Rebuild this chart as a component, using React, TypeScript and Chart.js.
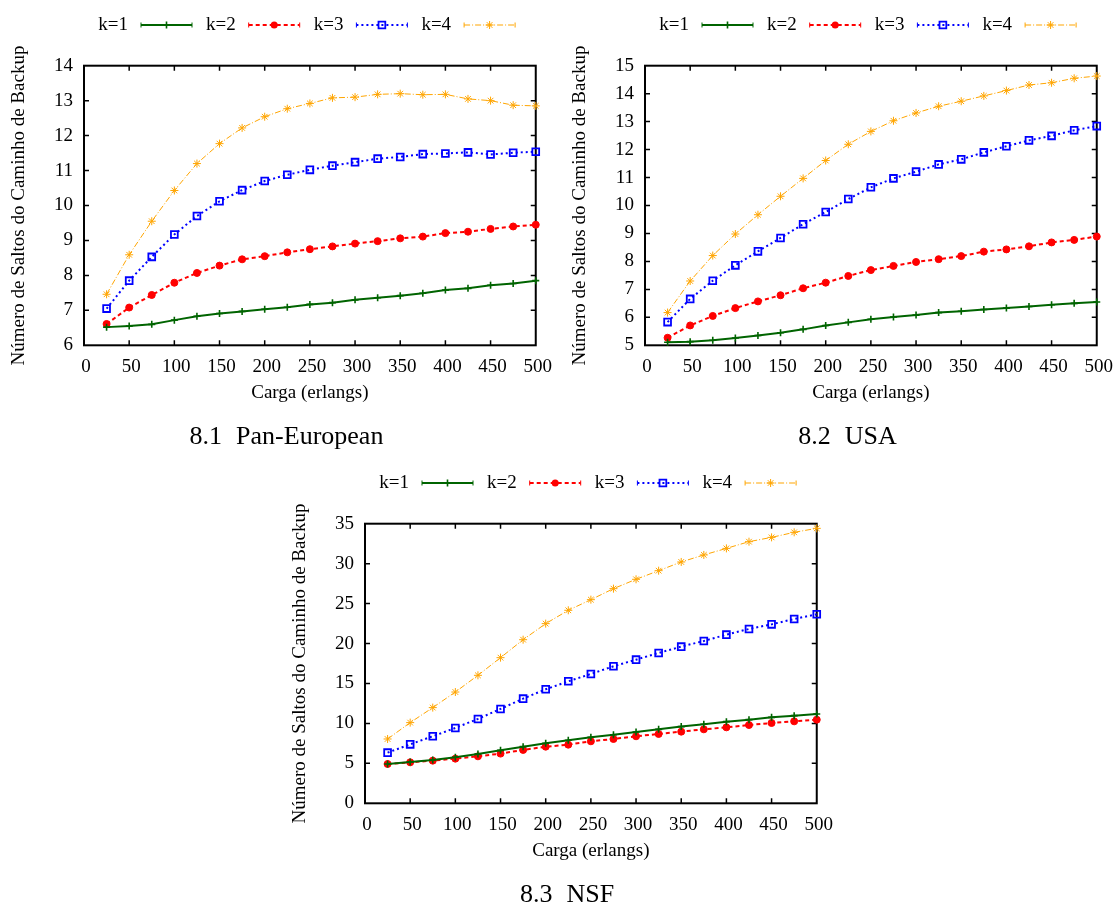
import React, { useEffect, useRef } from "react";
import { Chart, registerables } from "chart.js";

Chart.register(...registerables);

// ---------- data ----------
const loads = [25, 50, 75, 100, 125, 150, 175, 200, 225, 250, 275, 300, 325, 350, 375, 400, 425, 450, 475, 500];
const seriesLabels = ["k=1", "k=2", "k=3", "k=4"];
const xTickStep = 50;
const xMin = 0;
const xMax = 500;

const panEuK1 = [6.52, 6.55, 6.6, 6.72, 6.83, 6.91, 6.97, 7.03, 7.09, 7.17, 7.22, 7.3, 7.36, 7.42, 7.49, 7.58, 7.63, 7.72, 7.77, 7.85];
const panEuK2 = [6.61, 7.08, 7.44, 7.79, 8.07, 8.28, 8.46, 8.55, 8.66, 8.75, 8.83, 8.91, 8.98, 9.06, 9.11, 9.21, 9.25, 9.33, 9.4, 9.45];
const panEuK3 = [7.05, 7.85, 8.53, 9.17, 9.7, 10.12, 10.44, 10.7, 10.88, 11.02, 11.14, 11.24, 11.34, 11.39, 11.47, 11.49, 11.52, 11.46, 11.51, 11.54];
const panEuK4 = [7.46, 8.59, 9.55, 10.43, 11.2, 11.77, 12.22, 12.54, 12.77, 12.92, 13.08, 13.1, 13.18, 13.2, 13.17, 13.18, 13.05, 13.0, 12.87, 12.85];

const usaK1 = [5.11, 5.13, 5.18, 5.26, 5.35, 5.45, 5.57, 5.71, 5.82, 5.93, 6.01, 6.08, 6.17, 6.22, 6.28, 6.33, 6.39, 6.45, 6.5, 6.55];
const usaK2 = [5.27, 5.71, 6.05, 6.33, 6.57, 6.79, 7.04, 7.24, 7.48, 7.69, 7.84, 7.98, 8.08, 8.19, 8.35, 8.43, 8.54, 8.68, 8.77, 8.89];
const usaK3 = [5.83, 6.66, 7.31, 7.86, 8.36, 8.84, 9.33, 9.77, 10.23, 10.65, 10.97, 11.21, 11.47, 11.65, 11.9, 12.12, 12.33, 12.49, 12.69, 12.84];
const usaK4 = [6.17, 7.3, 8.21, 8.98, 9.67, 10.33, 10.97, 11.61, 12.19, 12.65, 13.03, 13.31, 13.55, 13.73, 13.92, 14.11, 14.31, 14.39, 14.55, 14.63];

const nsfK1 = [4.92, 5.17, 5.42, 5.76, 6.17, 6.63, 7.09, 7.51, 7.89, 8.26, 8.59, 8.93, 9.26, 9.6, 9.89, 10.22, 10.47, 10.76, 10.97, 11.18];
const nsfK2 = [4.92, 5.13, 5.34, 5.59, 5.88, 6.22, 6.68, 7.09, 7.34, 7.76, 8.05, 8.39, 8.68, 8.97, 9.26, 9.51, 9.8, 10.05, 10.26, 10.47];
const nsfK3 = [6.34, 7.38, 8.39, 9.43, 10.56, 11.81, 13.1, 14.27, 15.27, 16.19, 17.15, 17.98, 18.82, 19.61, 20.32, 21.11, 21.82, 22.4, 23.07, 23.66];
const nsfK4 = [8.05, 10.1, 11.98, 13.93, 16.02, 18.23, 20.48, 22.49, 24.16, 25.49, 26.87, 28.04, 29.12, 30.21, 31.09, 31.91, 32.75, 33.29, 33.92, 34.42];

const xTitle = "Carga (erlangs)";
const yTitle = "Número de Saltos do Caminho de Backup";

// ---------- styles ----------
const FONT = "'Liberation Serif', 'Times New Roman', serif";
const SERIES_STYLE = [
  { color: "#006400", dash: [] as number[], width: 2, point: "cross", radius: 3.5, pbw: 1.6, fill: "#006400" },
  { color: "#ff0000", dash: [4, 3], width: 2, point: "circle", radius: 3.5, pbw: 1, fill: "#ff0000" },
  { color: "#0000ff", dash: [2, 3], width: 2, point: "rect", radius: 4.8, pbw: 1.8, fill: "rgba(255,255,255,0)" },
  { color: "#ffa500", dash: [6, 2, 1, 2], width: 1, point: "star", radius: 4, pbw: 1, fill: "#ffa500" },
];

const CW = 560;
const CH = 460;
const PL = 84; // plot left inside canvas
const PT = 65.7;
const PW = 452.5;
const PH = 279.6;
const XH = 59; // x axis box height

function drawMarker(ctx: CanvasRenderingContext2D, style: string, x: number, y: number, r: number) {
  ctx.beginPath();
  if (style === "circle") {
    ctx.arc(x, y, r, 0, Math.PI * 2);
    ctx.fill();
    return;
  }
  if (style === "rect") {
    const s = r * Math.SQRT1_2;
    ctx.rect(x - s, y - s, 2 * s, 2 * s);
    ctx.stroke();
    return;
  }
  if (style === "cross") {
    ctx.moveTo(x - r, y);
    ctx.lineTo(x + r, y);
    ctx.moveTo(x, y - r);
    ctx.lineTo(x, y + r);
    ctx.stroke();
    return;
  }
  // star
  const d = r * Math.SQRT1_2;
  ctx.moveTo(x - r, y);
  ctx.lineTo(x + r, y);
  ctx.moveTo(x, y - r);
  ctx.lineTo(x, y + r);
  ctx.moveTo(x - d, y - d);
  ctx.lineTo(x + d, y + d);
  ctx.moveTo(x - d, y + d);
  ctx.lineTo(x + d, y - d);
  ctx.stroke();
}

const framePlugin = {
  id: "gnuframe",
  beforeDatasetsDraw(chart: any) {
    const { ctx, chartArea } = chart;
    const { left, right, top, bottom } = chartArea;
    ctx.save();
    ctx.strokeStyle = "#000";
    ctx.setLineDash([]);
    ctx.lineWidth = 1.5;
    const xs = chart.scales.x;
    const ys = chart.scales.y;
    xs.ticks.forEach((t: any) => {
      const px = xs.getPixelForValue(t.value);
      if (Math.abs(px - left) < 1 || Math.abs(px - right) < 1) return;
      ctx.beginPath();
      ctx.moveTo(px, bottom);
      ctx.lineTo(px, bottom - 5);
      ctx.moveTo(px, top);
      ctx.lineTo(px, top + 5);
      ctx.stroke();
    });
    ys.ticks.forEach((t: any) => {
      const py = ys.getPixelForValue(t.value);
      if (Math.abs(py - top) < 1 || Math.abs(py - bottom) < 1) return;
      ctx.beginPath();
      ctx.moveTo(left, py);
      ctx.lineTo(left + 5, py);
      ctx.moveTo(right, py);
      ctx.lineTo(right - 5, py);
      ctx.stroke();
    });
    ctx.lineWidth = 2;
    ctx.strokeRect(left, top, right - left, bottom - top);
    ctx.restore();
  },
  afterDraw(chart: any) {
    const { ctx, chartArea } = chart;
    const y = 25;
    ctx.save();
    chart.data.datasets.forEach((ds: any, i: number) => {
      const st = SERIES_STYLE[i];
      const textRight = chartArea.left + 44 + i * 107.7;
      ctx.font = `19px ${FONT}`;
      ctx.fillStyle = "#000";
      ctx.textAlign = "right";
      ctx.textBaseline = "middle";
      ctx.fillText(ds.label, textRight, y);
      const x0 = textRight + 13;
      const x1 = x0 + 51;
      ctx.strokeStyle = st.color;
      ctx.lineWidth = st.width;
      ctx.setLineDash(st.dash);
      ctx.beginPath();
      ctx.moveTo(x0, y);
      ctx.lineTo(x1, y);
      ctx.stroke();
      ctx.setLineDash([]);
      ctx.lineWidth = 1;
      ctx.beginPath();
      ctx.moveTo(x0, y - 2.5);
      ctx.lineTo(x0, y + 2.5);
      ctx.moveTo(x1, y - 2.5);
      ctx.lineTo(x1, y + 2.5);
      ctx.stroke();
      ctx.fillStyle = st.color;
      ctx.lineWidth = st.pbw;
      drawMarker(ctx, st.point, (x0 + x1) / 2, y, st.radius);
    });
    ctx.restore();
  },
};

type PanelProps = {
  left: number;
  top: number;
  series: number[][];
  yMin: number;
  yMax: number;
  yStep: number;
  caption: string;
  captionNum: string;
};

function Panel({ left, top, series, yMin, yMax, yStep, caption, captionNum }: PanelProps) {
  const ref = useRef<HTMLCanvasElement | null>(null);
  useEffect(() => {
    if (!ref.current) return;
    const font = { family: FONT, size: 19 };
    const chart = new Chart(ref.current, {
      type: "line",
      data: {
        datasets: series.map((vals, i) => {
          const st = SERIES_STYLE[i];
          return {
            label: seriesLabels[i],
            data: loads.map((x, j) => ({ x, y: vals[j] })),
            borderColor: st.color,
            backgroundColor: st.fill,
            borderWidth: st.width,
            borderDash: st.dash,
            pointStyle: st.point as any,
            pointRadius: st.radius,
            pointBorderWidth: st.pbw,
            pointBorderColor: st.color,
            pointBackgroundColor: st.fill,
            tension: 0,
            fill: false,
            clip: false as any,
          };
        }),
      },
      options: {
        animation: false,
        responsive: false,
        maintainAspectRatio: false,
        layout: { padding: { top: PT, left: 0, right: CW - PL - PW, bottom: CH - PT - PH - XH } },
        plugins: {
          legend: { display: false },
          tooltip: { enabled: false },
          title: { display: false },
        },
        scales: {
          x: {
            type: "linear",
            min: xMin,
            max: xMax,
            afterFit: (s: any) => {
              s.height = XH;
            },
            grid: { display: false, drawTicks: false },
            border: { display: false },
            ticks: { stepSize: xTickStep, font, color: "#000", padding: 10, maxRotation: 0, autoSkip: false, labelOffset: 2 },
            title: { display: true, text: xTitle, font, color: "#000", padding: { top: 0, bottom: 0 } },
          },
          y: {
            type: "linear",
            min: yMin,
            max: yMax,
            afterFit: (s: any) => {
              s.width = PL;
            },
            grid: { display: false, drawTicks: false },
            border: { display: false },
            ticks: { stepSize: yStep, font, color: "#000", padding: 11, autoSkip: false },
            title: { display: true, text: yTitle, font, color: "#000", padding: { top: 8, bottom: 0 } },
          },
        },
      },
      plugins: [framePlugin],
    });
    return () => chart.destroy();
  }, []);
  return (
    <>
      <canvas
        ref={ref}
        width={CW}
        height={CH}
        style={{ position: "absolute", left, top, width: CW, height: CH }}
      />
      <div
        style={{
          position: "absolute",
          left: left + PL + 202.5,
          top: top + PT + PH + 77.9,
          transform: "translateX(-50%)",
          fontFamily: FONT,
          fontSize: 26,
          lineHeight: 1,
          whiteSpace: "pre",
          color: "#000",
        }}
      >
        <span style={{ marginRight: 14 }}>{captionNum}</span>
        <span>{caption}</span>
      </div>
    </>
  );
}

export default function App() {
  return (
    <div style={{ position: "absolute", left: 0, top: 0, width: 1114, height: 905, background: "#fff", overflow: "hidden" }}>
      <Panel left={0} top={0} series={[panEuK1, panEuK2, panEuK3, panEuK4]} yMin={6} yMax={14} yStep={1} captionNum="8.1" caption="Pan-European" />
      <Panel left={561} top={0} series={[usaK1, usaK2, usaK3, usaK4]} yMin={5} yMax={15} yStep={1} captionNum="8.2" caption="USA" />
      <Panel left={280.7} top={457.6} series={[nsfK1, nsfK2, nsfK3, nsfK4]} yMin={0} yMax={35} yStep={5} captionNum="8.3" caption="NSF" />
    </div>
  );
}
